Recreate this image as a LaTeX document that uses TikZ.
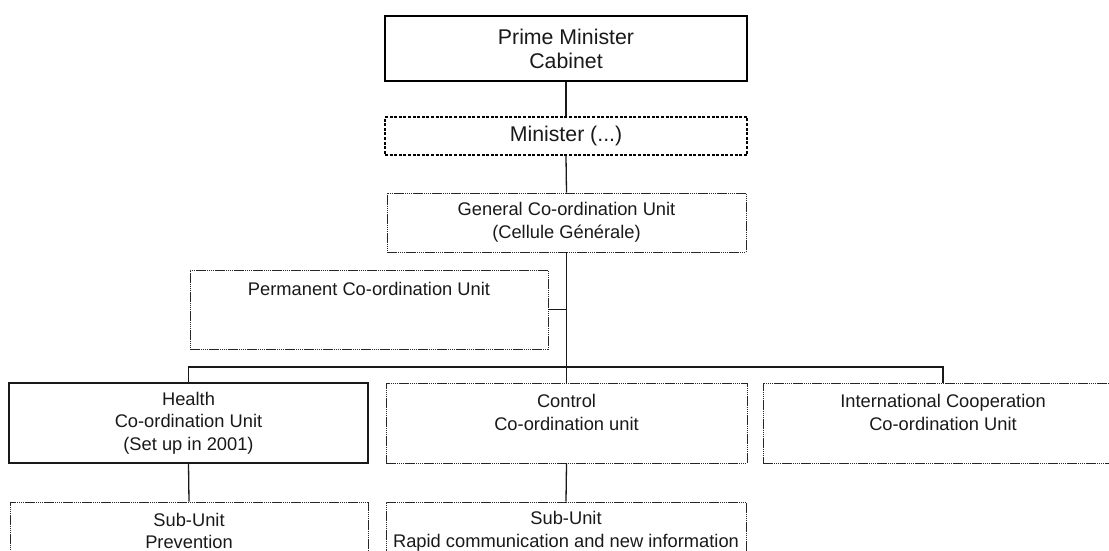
\documentclass[tikz,border=0pt]{standalone}
\usepackage{fontspec}
\setmainfont{Liberation Sans}
\begin{document}
\begin{tikzpicture}[x=1pt,y=-1pt,
  every node/.style={font=\fontsize{18.3}{22.5}\selectfont, align=center, inner sep=0pt, text=black!90},
  bigtext/.style={font=\fontsize{21.3}{24}\selectfont},
  unit/.style={draw=black!85, rectangle, line width=0.9pt,
    dash pattern=on 10pt off 1pt on 1pt off 1pt on 1pt off 1pt on 1pt off 1pt on 1pt off 1pt},
  solidunit/.style={draw=black!90, rectangle, line width=1.2pt},
  headbox/.style={draw=black, rectangle, line width=2.4pt},
  dotbox/.style={draw=black, rectangle, line width=2.4pt, dash pattern=on 3pt off 1.6pt},
  link/.style={draw=black!90, line width=1.3pt},
  trunk/.style={draw=black!90, line width=1.8pt}
]
\useasboundingbox (0,0) rectangle (1109,551);

% top of the hierarchy
\node[headbox, bigtext, minimum width=362pt, minimum height=65pt] (pm) at (566,48.5) {Prime Minister\\Cabinet};
\node[dotbox, bigtext, minimum width=362pt, minimum height=38pt] (min) at (566,136) {Minister (...)};
\node[unit, minimum width=359pt, minimum height=59pt] (gcu) at (566.5,222.5) {General Co-ordination Unit\\(Cellule Générale)};

% side unit attached to the trunk
\node[unit, minimum width=358pt, minimum height=79pt] (perm) at (369,309.5) {};
\node[anchor=center] (permtxt) at ([yshift=-19pt]perm.north) {Permanent Co-ordination Unit};

% junction of the horizontal bus
\coordinate (bus) at (566.5,367);

% second level units
\node[solidunit, minimum width=359pt, minimum height=80pt] (health) at (188.5,423) {Health\\Co-ordination Unit\\(Set up in 2001)};
\node[unit, minimum width=361pt, minimum height=80pt] (ctrl) at (566.5,423) {};
\node (ctrltxt) at ([yshift=-30pt]ctrl.north) {Control\\Co-ordination unit};
\node[unit, minimum width=360pt, minimum height=80pt] (intl) at (943,423) {};
\node (intltxt) at ([yshift=-30pt]intl.north) {International Cooperation\\Co-ordination Unit};

% sub-units
\node[unit, minimum width=358pt, minimum height=88pt] (sub1) at (189,546) {};
\node (sub1txt) at ([yshift=-29.5pt]sub1.north) {Sub-Unit\\Prevention};
\node[unit, minimum width=360pt, minimum height=88pt] (sub2) at (566,546) {};
\node (sub2txt) at ([yshift=-29.5pt]sub2.north) {Sub-Unit\\Rapid communication and new information};

% connectors
\path[link] (pm.south) -- (min.north);
\path[link] (min.south) -- (gcu.north);
\path[trunk] (gcu.south) -- (bus);
\path[link] (perm.east) -- (perm.east -| bus);
\path[trunk] (health.north) |- (bus) -| (intl.north);
\path[link] (bus) -- (ctrl.north);
\path[link] (health.south) -- (sub1.north);
\path[link] (ctrl.south) -- (sub2.north);
\end{tikzpicture}
\end{document}
